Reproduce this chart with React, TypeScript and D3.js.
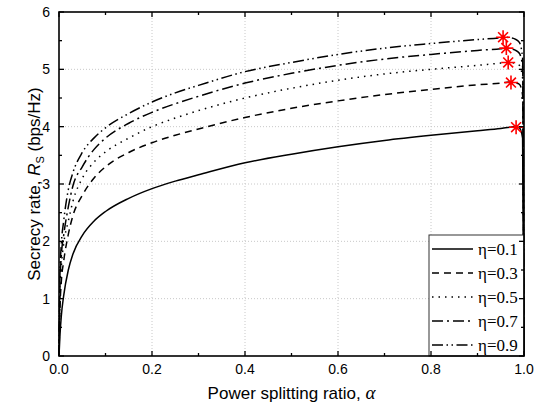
import React, { useEffect, useRef } from "react";
import * as d3 from "d3";

// power splitting ratio samples
const alpha = [0, 0.002, 0.005, 0.01, 0.02, 0.03, 0.05, 0.075, 0.1, 0.15, 0.2, 0.25, 0.3, 0.4, 0.5, 0.6, 0.7, 0.8, 0.9, 0.95, 0.96, 0.97, 0.98, 0.99, 0.997, 1.0];

// secrecy rate (bps/Hz), one array per eta
const rateEta01 = [0, 0.35, 0.7, 1.05, 1.5, 1.78, 2.1, 2.35, 2.52, 2.75, 2.92, 3.05, 3.16, 3.37, 3.52, 3.65, 3.76, 3.85, 3.93, 3.97, 3.98, 3.99, 4.0, 3.98, 3.8, 0];
const rateEta03 = [0, 0.8, 1.3, 1.65, 2.12, 2.45, 2.8, 3.1, 3.3, 3.55, 3.72, 3.85, 3.96, 4.16, 4.32, 4.45, 4.56, 4.65, 4.73, 4.76, 4.77, 4.78, 4.77, 4.74, 4.55, 0];
const rateEta05 = [0, 1.0, 1.55, 1.95, 2.35, 2.7, 3.1, 3.38, 3.56, 3.8, 4.0, 4.15, 4.28, 4.5, 4.67, 4.81, 4.92, 5.0, 5.07, 5.11, 5.12, 5.12, 5.11, 5.07, 4.85, 0];
const rateEta07 = [0, 1.2, 1.75, 2.1, 2.6, 2.97, 3.3, 3.6, 3.8, 4.06, 4.25, 4.4, 4.53, 4.76, 4.93, 5.07, 5.18, 5.26, 5.33, 5.36, 5.37, 5.36, 5.34, 5.28, 5.05, 0];
const rateEta09 = [0, 1.4, 1.95, 2.35, 2.9, 3.2, 3.55, 3.8, 3.98, 4.23, 4.43, 4.59, 4.72, 4.96, 5.12, 5.26, 5.37, 5.45, 5.52, 5.55, 5.56, 5.55, 5.53, 5.47, 5.2, 0];

const etaLabels = ["η=0.1", "η=0.3", "η=0.5", "η=0.7", "η=0.9"];
const dashStyles = ["none", "7,5", "1.5,5", "11,4,2,4", "11,3.5,1.5,3.5,1.5,3.5"];

// optimal points (red asterisks)
const peakAlpha = [0.983, 0.972, 0.966, 0.962, 0.955];
const peakRate = [3.99, 4.77, 5.12, 5.37, 5.56];

const xTicks = [0, 0.2, 0.4, 0.6, 0.8, 1.0];
const yTicks = [0, 1, 2, 3, 4, 5, 6];

const App = () => {
    const svgRef = useRef<SVGSVGElement>(null);

    useEffect(() => {
        const svg = d3.select(svgRef.current);
        svg.selectAll("*").remove();

        const width = 546;
        const height = 409;
        const margin = { top: 12, right: 22, bottom: 53, left: 59 };
        const left = margin.left;
        const right = width - margin.right;
        const top = margin.top;
        const bottom = height - margin.bottom;

        const x = d3.scaleLinear().domain([0, 1]).range([left, right]);
        const y = d3.scaleLinear().domain([0, 6]).range([bottom, top]);

        svg.append("rect").attr("width", width).attr("height", height).attr("fill", "white");

        // dotted grid
        const grid = svg.append("g").attr("stroke", "#c8c8c8").attr("stroke-width", 1).attr("stroke-dasharray", "1,2");
        xTicks.slice(1, -1).forEach(t => {
            grid.append("line").attr("x1", x(t)).attr("x2", x(t)).attr("y1", top).attr("y2", bottom);
        });
        yTicks.slice(1, -1).forEach(t => {
            grid.append("line").attr("x1", left).attr("x2", right).attr("y1", y(t)).attr("y2", y(t));
        });

        // curves
        const series = [rateEta01, rateEta03, rateEta05, rateEta07, rateEta09];
        const line = d3.line<number>()
            .x((d, i) => x(alpha[i]))
            .y(d => y(d))
            .curve(d3.curveMonotoneX);
        series.forEach((s, i) => {
            svg.append("path")
                .datum(s)
                .attr("d", line)
                .attr("fill", "none")
                .attr("stroke", "black")
                .attr("stroke-width", 1.5)
                .attr("stroke-dasharray", dashStyles[i]);
        });

        // asterisks
        const r = 7;
        const star = d3.path();
        [0, 45, 90, 135].forEach(a => {
            const rad = (a * Math.PI) / 180;
            star.moveTo(-r * Math.cos(rad), -r * Math.sin(rad));
            star.lineTo(r * Math.cos(rad), r * Math.sin(rad));
        });
        peakAlpha.forEach((a, i) => {
            svg.append("path")
                .attr("d", star.toString())
                .attr("transform", `translate(${x(a)},${y(peakRate[i])})`)
                .attr("stroke", "#ff0000")
                .attr("stroke-width", 1.6)
                .attr("fill", "none");
        });

        // legend
        const lg = svg.append("g");
        const lgLeft = 429;
        const lgTop = 235;
        lg.append("rect")
            .attr("x", lgLeft).attr("y", lgTop)
            .attr("width", right - lgLeft).attr("height", bottom - lgTop)
            .attr("fill", "white").attr("stroke", "#333").attr("stroke-width", 1);
        etaLabels.forEach((lab, i) => {
            const cy = 249 + i * 24;
            lg.append("line")
                .attr("x1", 432).attr("x2", 473).attr("y1", cy).attr("y2", cy)
                .attr("stroke", "black").attr("stroke-width", 1.5)
                .attr("stroke-dasharray", dashStyles[i]);
            lg.append("text")
                .attr("x", 478).attr("y", cy + 6)
                .attr("font-family", "'Liberation Serif', 'Times New Roman', serif")
                .attr("font-size", 17)
                .attr("fill", "black")
                .text(lab);
        });

        // frame
        svg.append("rect")
            .attr("x", left).attr("y", top)
            .attr("width", right - left).attr("height", bottom - top)
            .attr("fill", "none").attr("stroke", "black").attr("stroke-width", 1.6);

        // ticks (inward, all sides)
        const tk = svg.append("g").attr("stroke", "black").attr("stroke-width", 1.3);
        d3.range(0, 1.0001, 0.1).forEach(t => {
            const len = Math.round(t * 10) % 2 === 0 ? 5 : 3;
            tk.append("line").attr("x1", x(t)).attr("x2", x(t)).attr("y1", bottom).attr("y2", bottom - len);
            tk.append("line").attr("x1", x(t)).attr("x2", x(t)).attr("y1", top).attr("y2", top + len);
        });
        d3.range(0, 6.0001, 0.5).forEach(t => {
            const len = Math.round(t * 2) % 2 === 0 ? 5 : 3;
            tk.append("line").attr("x1", left).attr("x2", left + len).attr("y1", y(t)).attr("y2", y(t));
            tk.append("line").attr("x1", right).attr("x2", right - len).attr("y1", y(t)).attr("y2", y(t));
        });

        // tick labels
        const sans = "'Liberation Sans', Arial, sans-serif";
        xTicks.forEach(t => {
            svg.append("text")
                .attr("x", x(t)).attr("y", bottom + 18)
                .attr("text-anchor", "middle")
                .attr("font-family", sans).attr("font-size", 14)
                .text(d3.format(".1f")(t));
        });
        yTicks.forEach(t => {
            svg.append("text")
                .attr("x", left - 9).attr("y", y(t) + 5)
                .attr("text-anchor", "end")
                .attr("font-family", sans).attr("font-size", 14)
                .text(t);
        });

        // axis titles
        const xt = svg.append("text")
            .attr("x", (left + right) / 2).attr("y", 399)
            .attr("text-anchor", "middle")
            .attr("font-family", sans).attr("font-size", 17);
        xt.append("tspan").text("Power splitting ratio, ");
        xt.append("tspan").attr("font-family", "'Liberation Serif', serif").attr("font-style", "italic").attr("font-size", 19).text("α");

        const yt = svg.append("text")
            .attr("transform", `translate(40,${(top + bottom) / 2}) rotate(-90)`)
            .attr("text-anchor", "middle")
            .attr("font-family", sans).attr("font-size", 17);
        yt.append("tspan").text("Secrecy rate, ");
        yt.append("tspan").attr("font-style", "italic").text("R");
        yt.append("tspan").attr("font-size", 11).attr("dy", 4).text("S");
        yt.append("tspan").attr("dy", -4).text(" (bps/Hz)");
    }, []);

    return (
        <svg ref={svgRef} width={546} height={409} style={{ position: "absolute", left: 0, top: 0 }} />
    );
};

export default App;
